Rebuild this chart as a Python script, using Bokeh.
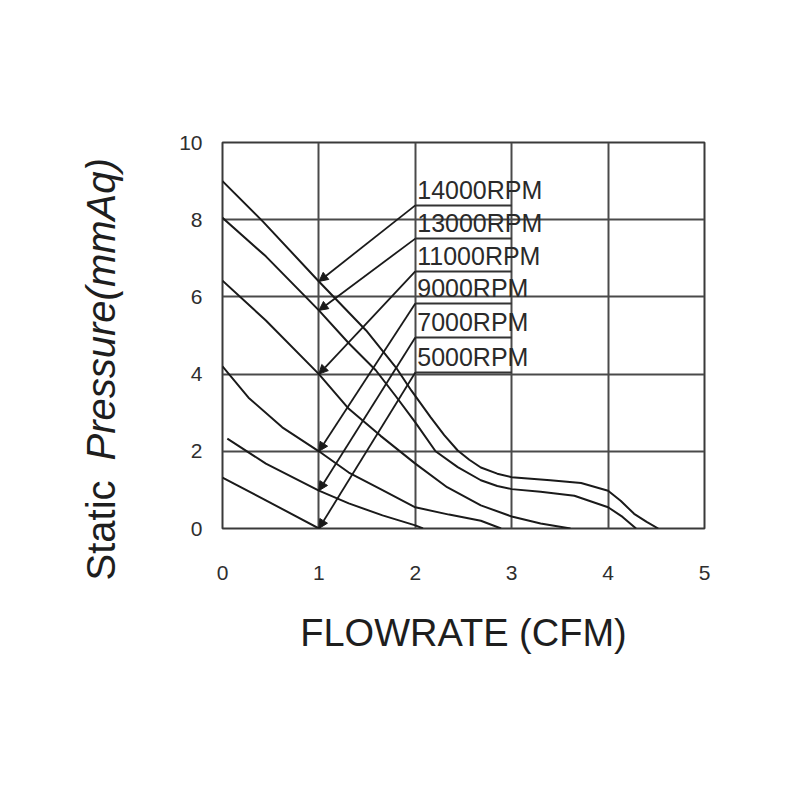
import numpy as np
from bokeh.plotting import figure
from bokeh.layouts import row
from bokeh.models import Range1d, FixedTicker, Arrow, NormalHead
from bokeh.core.properties import value
from bokeh.embed import file_html
from bokeh.resources import INLINE

# ---- data ----
speed_labels = ["14000RPM", "13000RPM", "11000RPM", "9000RPM", "7000RPM", "5000RPM"]

flow_14000 = [0, 0.42, 1.0, 1.49, 1.8, 1.96, 2.16, 2.3, 2.44, 2.56, 2.68, 2.85, 3.0, 3.4, 3.72, 4.0, 4.13, 4.27, 4.4, 4.52]
pres_14000 = [9.0, 7.95, 6.4, 5.13, 4.17, 3.57, 2.88, 2.42, 2.02, 1.78, 1.58, 1.42, 1.33, 1.25, 1.18, 0.98, 0.72, 0.38, 0.17, 0]

flow_13000 = [0, 0.45, 1.0, 1.31, 1.59, 1.8, 2.0, 2.21, 2.44, 2.68, 2.85, 3.0, 3.3, 3.65, 4.0, 4.15, 4.29]
pres_13000 = [8.05, 7.05, 5.65, 4.8, 4.1, 3.42, 2.75, 2.0, 1.59, 1.25, 1.1, 1.02, 0.95, 0.85, 0.55, 0.3, 0]

flow_11000 = [0, 0.45, 1.0, 1.31, 1.64, 2.0, 2.33, 2.68, 3.0, 3.3, 3.61]
pres_11000 = [6.42, 5.39, 4.0, 3.1, 2.4, 1.68, 1.07, 0.6, 0.31, 0.13, 0]

flow_9000 = [0, 0.27, 0.62, 1.0, 1.31, 1.64, 2.0, 2.35, 2.68, 2.89]
pres_9000 = [4.2, 3.39, 2.62, 2.0, 1.45, 1.02, 0.55, 0.36, 0.2, 0]

flow_7000 = [0.05, 0.45, 1.0, 1.31, 1.66, 2.0, 2.08]
pres_7000 = [2.33, 1.68, 0.98, 0.65, 0.34, 0.08, 0]

flow_5000 = [0, 0.45, 1.0]
pres_5000 = [1.32, 0.73, 0]

x_ticks = [0, 1, 2, 3, 4, 5]
y_ticks = [0, 2, 4, 6, 8, 10]

x_title = "FLOWRATE (CFM)"
y_title_upright = "Static"
y_title_italic = "Pressure(mmAq)"

series = [
    (flow_14000, pres_14000),
    (flow_13000, pres_13000),
    (flow_11000, pres_11000),
    (flow_9000, pres_9000),
    (flow_7000, pres_7000),
    (flow_5000, pres_5000),
]

# label placement (layout, in data units)
label_y = [8.37, 7.51, 6.66, 5.83, 4.95, 4.04]
label_x0, label_x1 = 2.0, 3.0
arrow_at_flow = 1.0

FONT = "Liberation Sans"
INK = "#1a1a1a"
H = 720
TITLE_W = 140

# ---- main chart ----
p = figure(width=636, height=H, output_backend="svg", toolbar_location=None,
           x_range=Range1d(0, 5), y_range=Range1d(0, 10),
           min_border_left=222 - TITLE_W, min_border_right=72, min_border_top=142, min_border_bottom=192,
           background_fill_color="white", border_fill_color="white")
p.frame_align = False

p.outline_line_color = "#3a3a3a"
p.outline_line_width = 2

for ax, ticks in ((p.xaxis, x_ticks), (p.yaxis, y_ticks)):
    ax.ticker = FixedTicker(ticks=ticks)
    ax.axis_line_color = None
    ax.major_tick_line_color = None
    ax.minor_tick_line_color = None
    ax.major_tick_out = 0
    ax.major_tick_in = 0
    ax.major_label_text_font = FONT
    ax.major_label_text_font_size = "21px"
    ax.major_label_text_color = "#2e2e2e"
p.xaxis.major_label_standoff = 37
p.yaxis.major_label_standoff = 20

p.xaxis.axis_label = x_title
p.xaxis.axis_label_text_font = FONT
p.xaxis.axis_label_text_font_size = "38px"
p.xaxis.axis_label_text_font_style = "normal"
p.xaxis.axis_label_text_color = "#1e1e1e"
p.xaxis.axis_label_standoff = 29

p.xgrid.ticker = FixedTicker(ticks=x_ticks)
p.ygrid.ticker = FixedTicker(ticks=y_ticks)
for g in (p.xgrid, p.ygrid):
    g.grid_line_color = "#4a4a4a"
    g.grid_line_width = 2

# curves
for fx, py in series:
    p.line(fx, py, line_color=INK, line_width=2, line_join="round")

# label underlines, text and leader arrows
p.segment(x0=[label_x0] * len(label_y), y0=label_y, x1=[label_x1] * len(label_y), y1=label_y,
          line_color="#333333", line_width=2)
p.text(x=[label_x0 + 0.02] * len(label_y), y=[v + 0.03 for v in label_y], text=speed_labels,
       text_font=value(FONT), text_font_size="25px", text_color="#2a2a2a",
       text_align="left", text_baseline="bottom")

for (fx, py), ly in zip(series, label_y):
    tip = float(np.interp(arrow_at_flow, fx, py))
    p.add_layout(Arrow(x_start=label_x0, y_start=ly, x_end=arrow_at_flow, y_end=tip,
                       line_color=INK, line_width=1.8,
                       end=NormalHead(size=9, fill_color=INK, line_color=INK)))

# ---- y-axis title panel (upright "Static" + italic "Pressure(mmAq)") ----
t = figure(width=TITLE_W, height=H, output_backend="svg", toolbar_location=None,
           x_range=Range1d(0, TITLE_W), y_range=Range1d(0, H),
           x_axis_location=None, y_axis_location=None, min_border=0,
           background_fill_color="white", border_fill_color="white")
t.frame_align = False
t.outline_line_color = None
t.xgrid.visible = False
t.ygrid.visible = False
t.text(x=[100], y=[H - 530], text=[y_title_upright], angle=np.pi / 2,
       text_font=value(FONT), text_font_size="40px", text_color="#1e1e1e",
       text_align="center", text_baseline="middle")
t.text(x=[100], y=[H - 460], text=[y_title_italic], angle=np.pi / 2,
       text_font=value(FONT), text_font_size="40px", text_font_style="italic",
       text_color="#1e1e1e", text_align="left", text_baseline="middle")

layout = row(t, p, spacing=0)
open("out.html", "w").write(file_html(layout, INLINE))
